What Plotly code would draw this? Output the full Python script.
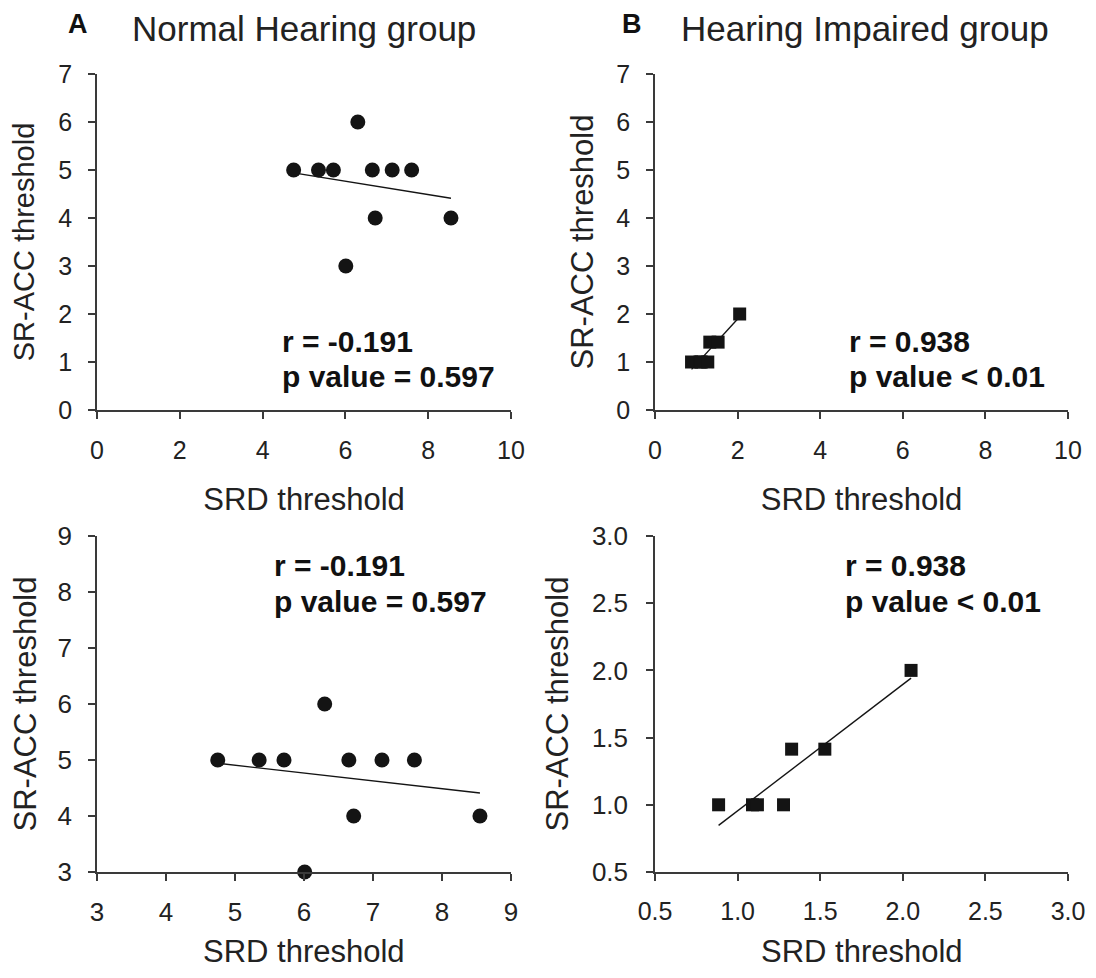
import numpy as np
import plotly.graph_objects as go

# ---- data ----
nh_srd = [4.75, 5.35, 5.71, 6.30, 6.01, 6.65, 6.72, 7.13, 7.60, 8.55]
nh_acc = [5, 5, 5, 6, 3, 5, 4, 5, 5, 4]
hi_srd = [0.885, 1.09, 1.12, 1.278, 1.327, 1.528, 2.05]
hi_acc = [1.0, 1.0, 1.0, 1.0, 1.414, 1.414, 2.0]

nh_stats = ["r = -0.191", "p value = 0.597"]
hi_stats = ["r = 0.938", "p value < 0.01"]
panel_titles = [("A", "Normal Hearing group"), ("B", "Hearing Impaired group")]
x_title = "SRD threshold"
y_title = "SR-ACC threshold"

# page is 1096x978; the html body has an 8px margin, so the figure itself is
# 16px smaller and every page position p maps to figure position p - 8
PAGE_OFF = 8
FW, FH = 1096 - 2 * PAGE_OFF, 978 - 2 * PAGE_OFF
FONT = "Liberation Sans, Arial, Helvetica, sans-serif"
INK = "#141414"
AX = "#3a3a3a"


def fx(p):
    return (p - PAGE_OFF) / FW


def fy(p):
    return 1 - (p - PAGE_OFF) / FH


def fit_line(x, y):
    k, b = np.polyfit(np.array(x), np.array(y), 1)
    xs = np.array([min(x), max(x)])
    return xs, k * xs + b


fig = go.Figure()

panels = [
    ("x", "y", nh_srd, nh_acc, "circle"),
    ("x2", "y2", hi_srd, hi_acc, "square"),
    ("x3", "y3", nh_srd, nh_acc, "circle"),
    ("x4", "y4", hi_srd, hi_acc, "square"),
]

for xa, ya, xv, yv, sym in panels:
    lx, ly = fit_line(xv, yv)
    fig.add_trace(go.Scatter(x=lx, y=ly, mode="lines", xaxis=xa, yaxis=ya,
                             line=dict(color=INK, width=1.4), cliponaxis=False,
                             hoverinfo="skip"))
    fig.add_trace(go.Scatter(x=xv, y=yv, mode="markers", xaxis=xa, yaxis=ya,
                             marker=dict(symbol=sym, size=15 if sym == "circle" else 13,
                                         color=INK, line=dict(width=0)),
                             cliponaxis=False))

common = dict(showline=True, linecolor=AX, linewidth=1.5, ticks="outside",
              ticklen=7, tickwidth=1.5, tickcolor=AX, showgrid=False,
              zeroline=False, automargin=False, ticklabeloverflow="allow")

xl = [fx(97), fx(511)]
xr = [fx(655), fx(1068)]
yt = [fy(410), fy(74)]
yb = [fy(872), fy(536)]


def xax(dom, anchor, rng, dtick, tsize, tstand, tfont, tstandoff, fmt=None, titled=True):
    d = dict(domain=dom, anchor=anchor, range=rng, dtick=dtick,
             tickfont=dict(size=tsize, color="#222"), ticklabelstandoff=tstand,
             **common)
    if titled:
        d["title"] = dict(text=x_title, font=dict(size=tfont, color="#222"), standoff=tstandoff)
    if fmt:
        d["tickformat"] = fmt
    return d


def yax(dom, anchor, rng, dtick, tsize, tstand, tfont, tstandoff, fmt=None):
    d = dict(domain=dom, anchor=anchor, range=rng, dtick=dtick,
             tickfont=dict(size=tsize, color="#222"), ticklabelstandoff=tstand,
             title=dict(text=y_title, font=dict(size=tfont, color="#222"), standoff=tstandoff),
             **common)
    if fmt:
        d["tickformat"] = fmt
    return d


fig.update_layout(
    width=FW, height=FH,
    margin=dict(l=0, r=0, t=0, b=0),
    paper_bgcolor="white", plot_bgcolor="white",
    showlegend=False,
    font=dict(family=FONT, color="#222"),
    xaxis=xax(xl, "y", [0, 10], 2, 25, 10, 31, 26),
    yaxis=yax(yt, "x", [0, 7], 1, 25, 11, 29, 15),
    xaxis2=xax(xr, "y2", [0, 10], 2, 25, 10, 31, 26),
    yaxis2=yax(yt, "x2", [0, 7], 1, 25, 11, 31, 13),
    xaxis3=xax(xl, "y3", [3, 9], 1, 26, 9, 31, 0, titled=False),
    yaxis3=yax(yb, "x3", [3, 9], 1, 26, 11, 31, 15),
    xaxis4=xax(xr, "y4", [0.5, 3.0], 0.5, 25, 9, 31, 0, ".1f", titled=False),
    yaxis4=yax(yb, "x4", [0.5, 3.0], 0.5, 26, 13, 31, 14, ".1f"),
)

ann = []
for (letter, title), (lx, tx) in zip(panel_titles, [(78, 130), (632, 679)]):
    ann.append(dict(text=f"<b>{letter}</b>", x=fx(lx), y=fy(24), xref="paper", yref="paper",
                    xanchor="center", yanchor="middle", showarrow=False,
                    font=dict(size=27, family=FONT, color="#111")))
    ann.append(dict(text=title, x=fx(tx), y=fy(28), xref="paper", yref="paper",
                    xanchor="left", yanchor="middle", showarrow=False,
                    font=dict(size=35, family=FONT, color="#222")))

# x-axis titles of the bottom row, sitting on the bottom edge of the figure
for dom in (xl, xr):
    ann.append(dict(text=x_title, x=(dom[0] + dom[1]) / 2, y=0, xref="paper", yref="paper",
                    xanchor="center", yanchor="bottom", showarrow=False, borderpad=0,
                    font=dict(size=31, family=FONT, color="#222")))

stat_pos = [
    (nh_stats, 280, 341, 376),
    (hi_stats, 847, 341, 376),
    (nh_stats, 272, 565, 601),
    (hi_stats, 843, 565, 601),
]
for lines, left, y1, y2 in stat_pos:
    for txt, yy in zip(lines, (y1, y2)):
        ann.append(dict(text=f"<b>{txt}</b>", x=fx(left), y=fy(yy),
                        xref="paper", yref="paper", xanchor="left", yanchor="middle",
                        showarrow=False, font=dict(size=30, family=FONT, color="#111")))

fig.update_layout(annotations=ann)
fig.write_html("out.html")
